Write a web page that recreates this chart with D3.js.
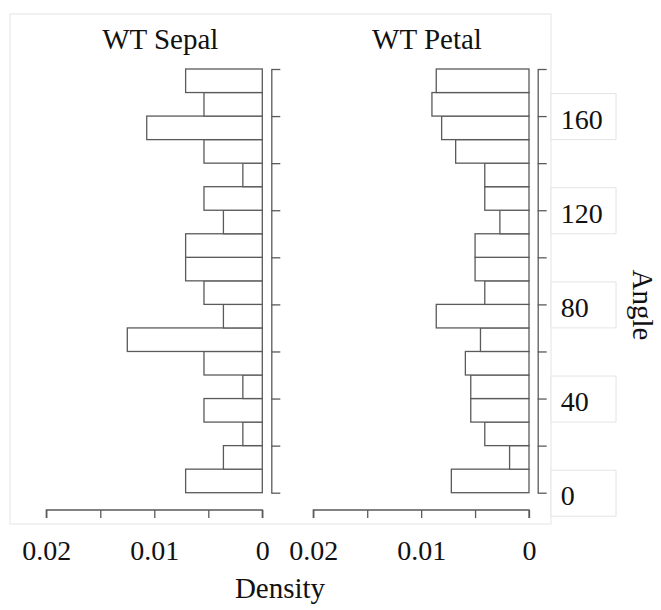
<!DOCTYPE html>
<html>
<head>
<meta charset="utf-8">
<script src="https://cdn.jsdelivr.net/npm/d3@7"></script>
<style>
  body { margin: 0; background: #fff; }
  svg text { font-family: "Times New Roman", "Liberation Serif", Tinos, "DejaVu Serif", Times, serif; fill: #111; }
</style>
</head>
<body>
<div id="chart"></div>
<script>
// angle bins, 10 degrees wide, from 0 up to 180
const binStarts = [0, 10, 20, 30, 40, 50, 60, 70, 80, 90, 100, 110, 120, 130, 140, 150, 160, 170]
const binWidth = 10

// densities per bin, bottom (0) to top (170)
const sepalDensity = [0.0071, 0.0036, 0.0018, 0.0054, 0.0018, 0.0054, 0.0125, 0.0036, 0.0054,
                      0.0071, 0.0071, 0.0036, 0.0054, 0.0018, 0.0054, 0.0107, 0.0054, 0.0071]
const petalDensity = [0.0072, 0.0018, 0.0041, 0.0054, 0.0054, 0.0059, 0.0045, 0.0086, 0.0041,
                      0.0050, 0.0050, 0.0027, 0.0041, 0.0041, 0.0068, 0.0081, 0.0090, 0.0086]

const panelTitles = ["WT Sepal", "WT Petal"]
const densityTicks = [0, 0.005, 0.01, 0.015, 0.02]
const densityLabels = { 0: "0", 0.01: "0.01", 0.02: "0.02" }
const angleTicks = [0, 20, 40, 60, 80, 100, 120, 140, 160, 180]
const angleLabelTicks = [0, 40, 80, 120, 160]

const width = 661
const height = 610
const lineColor = "#5a5a5a"

const svg = d3.select("#chart")
  .append("svg")
  .attr("width", width)
  .attr("height", height)

// faint frame left over around the plot area
svg.append("rect")
  .attr("x", 10).attr("y", 14)
  .attr("width", 541).attr("height", 510)
  .attr("fill", "none")
  .attr("stroke", "#e4e4e4")

const y = d3.scaleLinear().domain([0, 180]).range([492.7, 69])

const panels = [
  { title: panelTitles[0], data: sepalDensity, x0: 46.3, x1: 262.3, axisX: 271.3, labels: false },
  { title: panelTitles[1], data: petalDensity, x0: 313.3, x1: 529, axisX: 537.7, labels: true }
]

panels.forEach(p => {
  const x = d3.scaleLinear().domain([0.02, 0]).range([p.x0, p.x1])
  const g = svg.append("g")

  g.selectAll("rect.bar")
    .data(binStarts.map((b, i) => ({ lo: b, hi: b + binWidth, v: p.data[i] })))
    .join("rect")
    .attr("class", "bar")
    .attr("x", d => x(d.v))
    .attr("y", d => y(d.hi))
    .attr("width", d => x(0) - x(d.v))
    .attr("height", d => y(d.lo) - y(d.hi))
    .attr("fill", "#fff")
    .attr("stroke", lineColor)
    .attr("stroke-width", 1.3)

  // density axis, ticks hanging down
  const xAxis = g.append("g")
    .attr("transform", "translate(0,510)")
    .call(d3.axisBottom(x)
      .tickValues(densityTicks)
      .tickSize(8)
      .tickSizeOuter(0)
      .tickPadding(22)
      .tickFormat(d => densityLabels[d] || ""))
  xAxis.select(".domain").attr("d", `M${x(0.02)},8V0H${x(0)}V8`)

  // angle axis
  const yAxis = g.append("g")
    .attr("transform", `translate(${p.axisX},0)`)
    .call(d3.axisRight(y)
      .tickValues(angleTicks)
      .tickSize(9)
      .tickSizeOuter(0)
      .tickPadding(14)
      .tickFormat(d => p.labels && angleLabelTicks.includes(d) ? d : ""))

  ;[xAxis, yAxis].forEach(a => {
    a.attr("font-family", null)
    a.selectAll("path, line").attr("stroke", lineColor).attr("stroke-width", 1.3)
    a.selectAll("text").attr("font-size", 28).attr("fill", "#111")
  })
  yAxis.selectAll("text").attr("dy", "0.43em")

  if (p.labels) {
    // white label boxes behind angle tick labels
    yAxis.selectAll(".tick")
      .filter(d => angleLabelTicks.includes(d))
      .insert("rect", "text")
      .attr("x", 551 - p.axisX)
      .attr("y", -23)
      .attr("width", 65)
      .attr("height", 46)
      .attr("fill", "#fff")
      .attr("stroke", "#e4e4e4")
  }

  g.append("text")
    .attr("x", (p.x0 + p.axisX + 9) / 2 - 3)
    .attr("y", 49)
    .attr("text-anchor", "middle")
    .attr("font-size", 29)
    .text(p.title)
})

svg.append("text")
  .attr("x", 280)
  .attr("y", 598)
  .attr("text-anchor", "middle")
  .attr("font-size", 29)
  .text("Density")

svg.append("text")
  .attr("transform", "translate(633,305) rotate(90)")
  .attr("text-anchor", "middle")
  .attr("font-size", 29)
  .text("Angle")
</script>
</body>
</html>
